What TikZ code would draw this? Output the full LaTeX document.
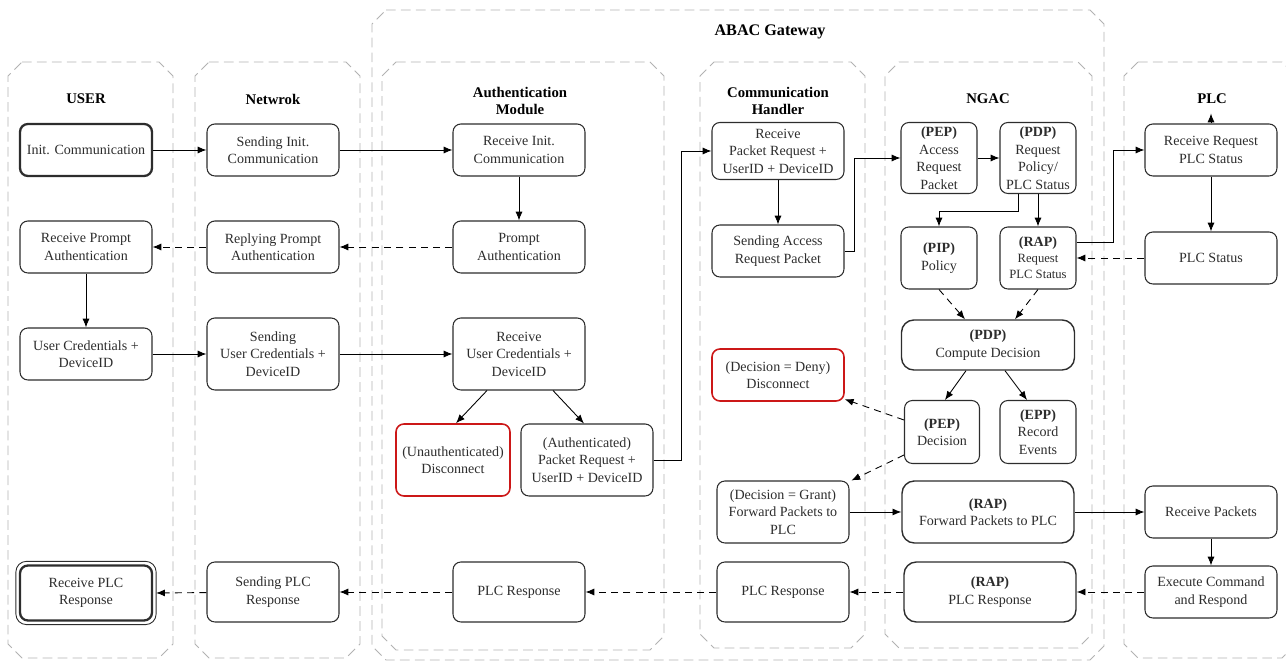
\documentclass[tikz,border=0pt]{standalone}
\usepackage{fontspec}
\setmainfont{Liberation Serif}
\usetikzlibrary{arrows.meta}

\definecolor{lanegray}{RGB}{178,178,178}
\definecolor{denyred}{RGB}{204,24,24}
\definecolor{inkgray}{RGB}{45,45,45}

\tikzset{
  lane/.style={draw=lanegray, dash pattern=on 5.5pt off 3pt, line width=0.5pt},
  title/.style={font=\fontsize{8.4}{10}\selectfont\bfseries, align=center},
  proc/.style={draw=inkgray, rounded corners=4.5pt, align=center, line width=0.6pt,
    minimum width=2.64cm, minimum height=1.04cm, inner sep=1pt, text=inkgray},
  tall/.style={proc, minimum height=1.44cm},
  resp/.style={proc, minimum height=1.2cm},
  ngac/.style={proc, minimum width=1.52cm, minimum height=1.42cm},
  ngacsmall/.style={ngac, minimum height=1.24cm},
  wide/.style={proc, rounded corners=7pt, minimum width=3.44cm, minimum height=1.24cm, line width=0.8pt},
  deny/.style={proc, draw=denyred, line width=0.9pt},
  flow/.style={->, line width=0.5pt},
  reply/.style={->, line width=0.5pt, dash pattern=on 4pt off 3pt},
}

% chamfered dashed container, corners in px
\newcommand{\swimlane}[4]{%
  \draw[lane] (#1+14,#2) -- (#3-14,#2) -- (#3,#2+14) -- (#3,#4-14) -- (#3-14,#4)
    -- (#1+14,#4) -- (#1,#4-14) -- (#1,#2+14) -- cycle;}

\begin{document}
\begin{tikzpicture}[x=0.02cm,y=-0.02cm,font=\fontsize{8}{10}\selectfont,>={Latex[length=5pt,width=4pt]}]
\useasboundingbox (0,0) rectangle (1286,661);

% containers
\swimlane{8}{62}{173}{658}
\swimlane{195}{62}{360}{658}
\swimlane{372}{10}{1104}{660}
\swimlane{382}{62}{664}{650}
\swimlane{700}{62}{865}{648}
\swimlane{885}{62}{1092}{648}
\swimlane{1124}{62}{1296}{658}

% titles
\node[title, font=\fontsize{9.2}{11}\selectfont\bfseries] (gwtitle) at (770,32) {ABAC Gateway};
\node[title] (usertitle) at (86,99) {USER};
\node[title] (nettitle) at (273,99) {Netwrok};
\node[title] (authtitle) at (520,101) {Authentication\\Module};
\node[title] (commtitle) at (778,101) {Communication\\Handler};
\node[title] (ngactitle) at (988,99) {NGAC};
\node[title] (plctitle) at (1212,99) {PLC};

% USER
\node[proc, line width=1.3pt] (init) at (86,150) {Init. Communication};
\node[proc] (recvprompt) at (86,247) {Receive Prompt\\Authentication};
\node[proc] (usercred) at (86,354) {User Credentials +\\DeviceID};
\node[proc, minimum width=2.64cm, minimum height=1.1cm, line width=1.3pt] (recvplc) at (86,593) {Receive PLC\\Response};
\draw[draw=inkgray, line width=0.5pt, rounded corners=6pt]
  ([shift={(-3,-3)}]recvplc.north west) rectangle ([shift={(3,3)}]recvplc.south east);

% Network
\node[proc] (sendinit) at (273,150) {Sending Init.\\Communication};
\node[proc] (replyprompt) at (273,247) {Replying Prompt\\Authentication};
\node[tall] (sendcred) at (273,354) {Sending\\User Credentials +\\DeviceID};
\node[resp] (sendplc) at (273,592) {Sending PLC\\Response};

% Authentication module
\node[proc] (recvinit) at (519,150) {Receive Init.\\Communication};
\node[proc] (prompt) at (519,247) {Prompt\\Authentication};
\node[tall] (recvcred) at (519,354) {Receive\\User Credentials +\\DeviceID};
\node[deny, minimum width=2.28cm, minimum height=1.44cm] (unauth) at (453,460) {(Unauthenticated)\\Disconnect};
\node[tall] (authpkt) at (587,460) {(Authenticated)\\Packet Request +\\UserID + DeviceID};
\node[resp] (plcresp1) at (519,592) {PLC Response};

% Communication handler
\node[proc, minimum height=1.14cm] (recvpkt) at (778,151) {Receive\\Packet Request +\\UserID + DeviceID};
\node[proc] (sendaccess) at (778,251) {Sending Access\\Request Packet};
\node[deny] (deny) at (778,375) {(Decision = Deny)\\Disconnect};
\node[proc, minimum height=1.24cm] (grant) at (783,512) {(Decision = Grant)\\Forward Packets to\\PLC};
\node[resp] (plcresp2) at (783,592) {PLC Response};

% NGAC
\node[ngac] (pep1) at (939,158) {\textbf{(PEP)}\\Access\\Request\\Packet};
\node[ngac] (pdp1) at (1038,158) {\textbf{(PDP)}\\Request\\Policy/\\PLC Status};
\node[ngacsmall] (pip) at (939,258) {\textbf{(PIP)}\\Policy};
\node[ngacsmall, font=\fontsize{7.2}{9}\selectfont] (rap1) at (1038,258) {{\fontsize{8}{10}\selectfont\textbf{(RAP)}}\\Request\\PLC Status};
\node[wide, minimum width=3.46cm, minimum height=1.0cm] (pdp2) at (988,345) {\textbf{(PDP)}\\Compute Decision};
\node[ngacsmall, minimum width=1.5cm, minimum height=1.26cm] (pep2) at (942,432) {\textbf{(PEP)}\\Decision};
\node[ngacsmall, minimum height=1.26cm] (epp) at (1038,432) {\textbf{(EPP)}\\Record\\Events};
\node[wide] (rapfwd) at (988,512) {\textbf{(RAP)}\\Forward Packets to PLC};
\node[wide, minimum height=1.2cm] (rapresp) at (990,592) {\textbf{(RAP)}\\PLC Response};

% PLC
\node[proc] (recvreq) at (1211,150) {Receive Request\\PLC Status};
\node[proc] (plcstatus) at (1211,258) {PLC Status};
\node[proc] (recvpackets) at (1211,512) {Receive Packets};
\node[proc] (execute) at (1211,592) {Execute Command\\and Respond};

% connectors
\draw[flow] (init) -- (sendinit);
\draw[flow] (sendinit) -- (recvinit);
\draw[flow] (recvinit) -- (prompt);
\draw[reply] (prompt) -- (replyprompt);
\draw[reply] (replyprompt) -- (recvprompt);
\draw[flow] (recvprompt) -- (usercred);
\draw[flow] (usercred) -- (sendcred);
\draw[flow] (sendcred) -- (recvcred);
\draw[flow] ([xshift=-0.64cm]recvcred.south) -- ([xshift=0.06cm]unauth.north);
\draw[flow] ([xshift=0.68cm]recvcred.south) -- ([xshift=-0.06cm]authpkt.north);
\draw[flow] (authpkt.east) -- ++(28,0) |- (recvpkt.west);
\draw[flow] (recvpkt) -- (sendaccess);
\draw[flow] (sendaccess.east) -- ++(10,0) |- (pep1.west);
\draw[flow] (pep1) -- (pdp1);
\draw[flow] ([xshift=-0.4cm]pdp1.south) -- ++(0,17) -| (pip.north);
\draw[flow] (pdp1) -- (rap1);
\draw[flow] ([yshift=0.32cm]rap1.east) -- ++(37,0) |- (recvreq.west);
\draw[flow] (recvreq.north) -- ++(0,-10);
\draw[flow] (recvreq) -- (plcstatus);
\draw[reply] (plcstatus) -- (rap1);
\draw[reply] (pip.south) -- ([xshift=-0.46cm]pdp2.north);
\draw[reply] (rap1.south) -- ([xshift=0.54cm]pdp2.north);
\draw[flow] ([xshift=-0.44cm]pdp2.south) -- ([xshift=0.06cm]pep2.north);
\draw[flow] ([xshift=0.34cm]pdp2.south) -- ([xshift=-0.22cm]epp.north);
\draw[reply] ([yshift=0.24cm]pep2.west) -- (deny.-20);
\draw[reply] ([yshift=-0.46cm]pep2.west) -- ([xshift=0.04cm]grant.north east);
\draw[flow] (grant) -- (rapfwd);
\draw[flow] (rapfwd) -- (recvpackets);
\draw[flow] (recvpackets) -- (execute);
\draw[reply] (execute) -- (rapresp);
\draw[reply] (rapresp) -- (plcresp2);
\draw[reply] (plcresp2) -- (plcresp1);
\draw[reply] (plcresp1) -- (sendplc);
\draw[reply] (sendplc) -- ([xshift=0.06cm]recvplc.east);
\end{tikzpicture}
\end{document}
